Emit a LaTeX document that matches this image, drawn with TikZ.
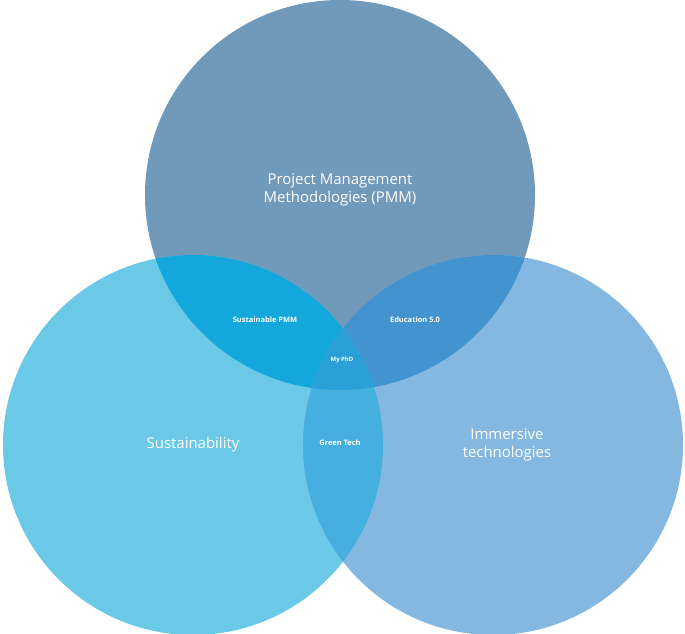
\documentclass[tikz,border=0pt]{standalone}
\usepackage{fontspec}
\setmainfont{Open Sans}
\definecolor{pmmcol}{RGB}{113,153,186}
\definecolor{suscol}{RGB}{107,200,230}
\definecolor{immcol}{RGB}{133,184,224}
\definecolor{pmsus}{RGB}{19,167,219}
\definecolor{pmimm}{RGB}{67,147,207}
\definecolor{susimm}{RGB}{69,176,224}
\definecolor{allcol}{RGB}{42,159,216}
\tikzset{big/.style={text=white,font=\fontsize{15}{18}\selectfont,align=center},
  small/.style={text=white,font=\bfseries\fontsize{7.5}{9}\selectfont}}
\begin{document}
\begin{tikzpicture}[x=1bp,y=1bp]
  \useasboundingbox (0,0) rectangle (685,634);
  \coordinate (cp) at (340,439);
  \coordinate (cs) at (193,189);
  \coordinate (ci) at (493,189);
  \fill[pmmcol] (cp) circle (195);
  \fill[suscol] (cs) circle (190);
  \fill[immcol] (ci) circle (190);
  \begin{scope}\clip (cp) circle (195); \fill[pmsus] (cs) circle (190);\end{scope}
  \begin{scope}\clip (cp) circle (195); \fill[pmimm] (ci) circle (190);\end{scope}
  \begin{scope}\clip (cs) circle (190); \fill[susimm] (ci) circle (190);\end{scope}
  \begin{scope}\clip (cp) circle (195); \clip (cs) circle (190); \fill[allcol] (ci) circle (190);\end{scope}
  %
  \node (pmm) [big] at (340,444) {Project Management\\Methodologies (PMM)};
  \node (sus) [big] at (193,189) {Sustainability};
  \node (imm) [big] at (507,189) {Immersive\\technologies};
  \node (spmm) [small] at (265,314) {Sustainable PMM};
  \node (edu) [small] at (415,314) {Education 5.0};
  \node (phd) [small,font=\bfseries\fontsize{6}{7}\selectfont] at (342,274) {My PhD};
  \node (gt) [small] at (340,191) {Green Tech};
\end{tikzpicture}
\end{document}
